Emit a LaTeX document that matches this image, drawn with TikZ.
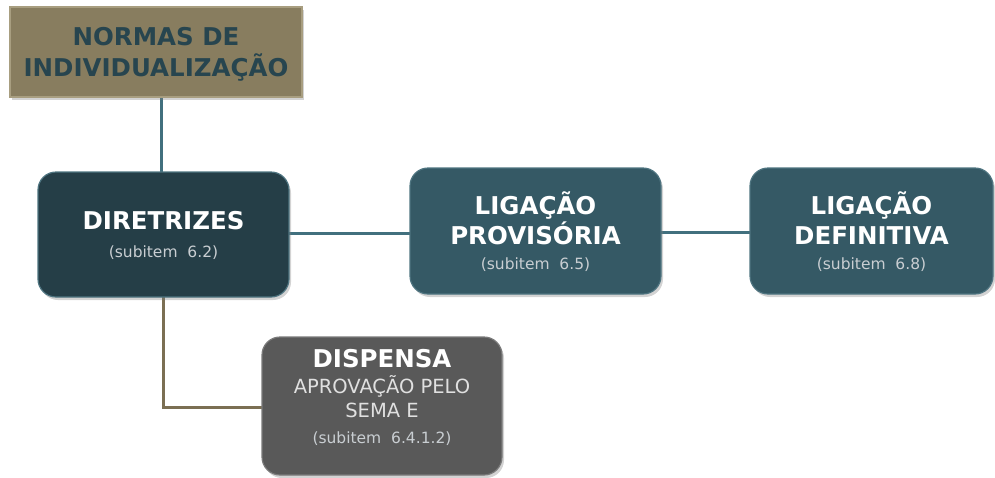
\documentclass[tikz,border=0pt]{standalone}
\usepackage{fontspec}
\setmainfont{DejaVu Sans}
\usetikzlibrary{shadows}
\definecolor{olivebox}{HTML}{887D5F}
\definecolor{oliveedge}{HTML}{A89E80}
\definecolor{darkteal}{HTML}{253E47}
\definecolor{midteal}{HTML}{355965}
\definecolor{tealedge}{HTML}{4E7480}
\definecolor{graybox}{HTML}{595959}
\definecolor{grayedge}{HTML}{7A7A7A}
\definecolor{titletext}{HTML}{27454F}
\definecolor{subtext}{HTML}{C9CED2}
\definecolor{tealline}{HTML}{41707E}
\definecolor{oliveline}{HTML}{7B6F53}
\tikzset{
  boxbase/.style={rectangle, inner sep=0pt, align=center, text=white,
    drop shadow={shadow xshift=2pt, shadow yshift=-3pt, opacity=0.35},
    font=\fontsize{24.5}{30}\selectfont\bfseries},
  roundbox/.style={boxbase, rounded corners=18pt, line width=1.2pt},
  tealconn/.style={draw=tealline, line width=3pt},
  oliveconn/.style={draw=oliveline, line width=3pt},
}
\newcommand{\subtxt}[1]{{\fontsize{15.5}{18}\mdseries\selectfont\color{subtext}#1}}
\newcommand{\plaintxt}[1]{{\fontsize{19.5}{23}\mdseries\selectfont\color{white!88!black}#1}}
\begin{document}
\begin{tikzpicture}[x=1pt,y=-1pt]
\useasboundingbox (0,0) rectangle (995,477);
% connectors first
\coordinate (c1) at (163,407);
\coordinate (topc) at (161,97);
\coordinate (dirtop) at (161,172);
\draw[tealconn] (topc) -- (dirtop);
\draw[tealconn] (289,233) -- (410,233);
\draw[tealconn] (661,232) -- (750,232);
\draw[oliveconn] (163,297) -- (c1) -- (262,407);
% boxes
\node[boxbase, fill=olivebox, draw=oliveedge, line width=1.2pt, minimum width=292pt, minimum height=90pt, text=titletext,
  font=\fontsize{24.5}{31}\selectfont\bfseries, text depth=-3pt] (normas) at (156,52)
  {NORMAS DE\\INDIVIDUALIZAÇÃO};
\node[roundbox, fill=darkteal, draw=tealedge, minimum width=251pt, minimum height=125pt, text depth=-1pt] (dir) at (163.5,234.5)
  {DIRETRIZES\\[-2pt]\subtxt{(subitem\ \ 6.2)}};
\node[roundbox, fill=midteal, draw=tealedge, minimum width=251pt, minimum height=126pt, text depth=-4pt] (prov) at (535.5,231)
  {LIGAÇÃO\\PROVISÓRIA\\[-5pt]\subtxt{(subitem\ \ 6.5)}};
\node[roundbox, fill=midteal, draw=tealedge, minimum width=243pt, minimum height=126pt, text depth=-4pt] (def) at (871.5,231)
  {LIGAÇÃO\\DEFINITIVA\\[-5pt]\subtxt{(subitem\ \ 6.8)}};
\node[roundbox, fill=graybox, draw=grayedge, minimum width=240pt, minimum height=138pt, text depth=20pt] (disp) at (382,406)
  {DISPENSA\\[-4pt]\plaintxt{APROVAÇÃO PELO}\\[-6pt]
   \plaintxt{SEMA E}\\[-4pt]\subtxt{(subitem\ \ 6.4.1.2)}};
\end{tikzpicture}
\end{document}
